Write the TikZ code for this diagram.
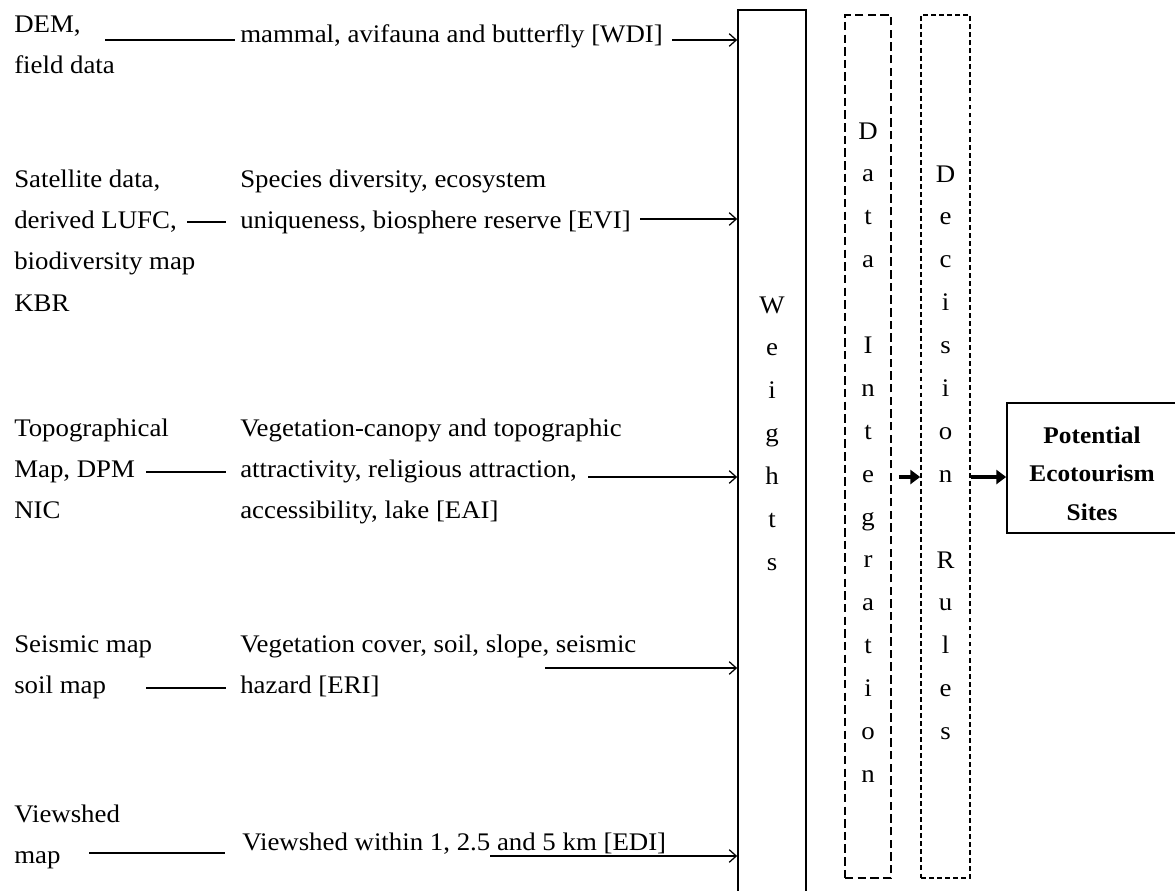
\documentclass[tikz,border=0pt]{standalone}
\usepackage{fontspec}
\setmainfont{Liberation Serif}[FakeStretch=1.06]
\usetikzlibrary{arrows.meta,fit}
\newcommand{\txtlines}[2][l]{\begin{tabular}[t]{@{}#1@{}}#2\end{tabular}}
\tikzset{
  txt/.style={anchor=base west, inner sep=0pt, font=\fontsize{18pt}{29.5pt}\selectfont},
  vtxt/.style={anchor=base, inner sep=0pt, font=\fontsize{18pt}{30.5pt}\selectfont},
  wbox/.style={draw, line width=1.2pt, inner sep=0pt},
  dbox/.style={wbox, dash pattern=on 6pt off 3pt},
  rbox/.style={wbox, dash pattern=on 3.5pt off 2.2pt},
  link/.style={line width=0.9pt},
  arr/.style={line width=0.9pt, -{Straight Barb[length=5pt,width=9pt]}},
  fatarr/.style={line width=3pt, -{Triangle[length=7pt,width=10pt]}}
}
\begin{document}
\begin{tikzpicture}[x=0.025cm, y=-0.025cm]
\useasboundingbox (0,0) rectangle (1175,890);
\clip (0,0) rectangle (1175,890);
\fill[white] (0,0) rectangle (1175,890);

\node[txt] (dem) at (14,32) {\txtlines{DEM,\\field data}};
\node[txt] (sat) at (14,187) {\txtlines{Satellite data,\\derived LUFC,\\biodiversity map\\KBR}};
\node[txt] (topo) at (14,436) {\txtlines{Topographical\\Map, DPM\\NIC}};
\node[txt] (seis) at (14,652) {\txtlines{Seismic map\\soil map}};
\node[txt] (view) at (14,822) {\txtlines{Viewshed\\map}};

\node[txt] (wdi) at (240,42) {mammal, avifauna and butterfly [WDI]};
\node[txt] (evi) at (240,187) {\txtlines{Species diversity, ecosystem\\uniqueness, biosphere reserve [EVI]}};
\node[txt] (eai) at (240,436) {\txtlines{Vegetation-canopy and topographic\\attractivity, religious attraction,\\accessibility, lake [EAI]}};
\node[txt] (eri) at (240,652) {\txtlines{Vegetation cover, soil, slope, seismic\\hazard [ERI]}};
\node[txt] (edi) at (242,850) {Viewshed within 1, 2.5 and 5 km [EDI]};

\node[wbox, fit={(738,10) (806,905)}] (wts) {};
\node[dbox, fit={(845,15) (891,878)}] (integ) {};
\node[rbox, fit={(921,15) (970,878)}] (rules) {};
\node[wbox, fit={(1007,403) (1190,533)}] (pes) {};

\node[vtxt] (wtxt) at (772,313) {\txtlines[c]{W\\e\\i\\g\\h\\t\\s}};
\node[vtxt] (itxt) at (868,139) {\txtlines[c]{D\\a\\t\\a\\ \\I\\n\\t\\e\\g\\r\\a\\t\\i\\o\\n}};
\node[vtxt] (rtxt) at (945.5,182) {\txtlines[c]{D\\e\\c\\i\\s\\i\\o\\n\\ \\R\\u\\l\\e\\s}};
\node[vtxt, font=\fontsize{17pt}{27.6pt}\selectfont\bfseries] (pestxt) at (1092,443) {\txtlines[c]{Potential\\Ecotourism\\Sites}};

\coordinate (d1) at (105,40);
\coordinate (d2) at (187,222);
\coordinate (d3) at (146,472);
\coordinate (d4) at (146,688);
\coordinate (d5) at (89,853);
\draw[link] (d1) -- ([xshift=-3.5pt]d1 -| wdi.west);
\draw[link] (d2) -- ([xshift=-10pt]d2 -| evi.west);
\draw[link] (d3) -- ([xshift=-10pt]d3 -| eai.west);
\draw[link] (d4) -- ([xshift=-10pt]d4 -| eri.west);
\draw[link] (d5) -- ([xshift=-12pt]d5 -| edi.west);

\coordinate (a1) at (672,40);
\coordinate (a2) at (640,219);
\coordinate (a3) at (588,477);
\coordinate (a4) at (545,668);
\coordinate (a5) at (490,856);
\draw[arr] (a1) -- (a1 -| wts.west);
\draw[arr] (a2) -- (a2 -| wts.west);
\draw[arr] (a3) -- (a3 -| wts.west);
\draw[arr] (a4) -- (a4 -| wts.west);
\draw[arr] (a5) -- (a5 -| wts.west);

\coordinate (flow) at (0,477);
\draw[fatarr, shorten <=5pt] (integ.east |- flow) -- (rules.west |- flow);
\draw[fatarr] (rules.east |- flow) -- (pes.west |- flow);
\end{tikzpicture}
\end{document}
